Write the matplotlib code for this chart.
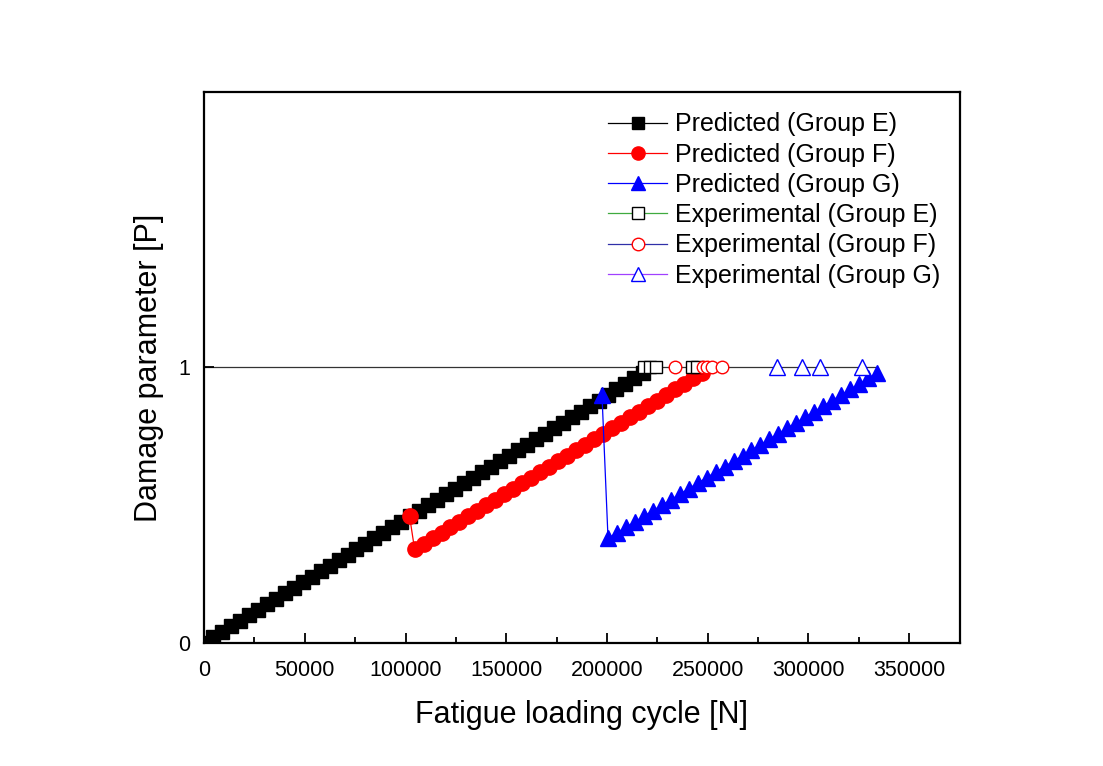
import matplotlib
matplotlib.use("Agg")
import matplotlib.pyplot as plt
from matplotlib.lines import Line2D
from matplotlib.ticker import MultipleLocator, FixedLocator

plt.rcParams['font.family'] = ['Liberation Sans', 'DejaVu Sans']

# Predicted damage parameter, Group E
pred_e_n = [0, 4450, 8900, 13350, 17800, 22250, 26700, 31150, 35600, 40050,
            44500, 48950, 53400, 57850, 62300, 66750, 71200, 75650, 80100, 84550,
            89000, 93450, 97900, 102350, 106800, 111250, 115700, 120150, 124600, 129050,
            133500, 137950, 142400, 146850, 151300, 155750, 160200, 164650, 169100, 173550,
            178000, 182450, 186900, 191350, 195800, 200250, 204700, 209150, 213600, 218050]
pred_e_p = [0.00, 0.02, 0.04, 0.06, 0.08, 0.10, 0.12, 0.14, 0.16, 0.18,
            0.20, 0.22, 0.24, 0.26, 0.28, 0.30, 0.32, 0.34, 0.36, 0.38,
            0.40, 0.42, 0.44, 0.46, 0.48, 0.50, 0.52, 0.54, 0.56, 0.58,
            0.60, 0.62, 0.64, 0.66, 0.68, 0.70, 0.72, 0.74, 0.76, 0.78,
            0.80, 0.82, 0.84, 0.86, 0.88, 0.90, 0.92, 0.94, 0.96, 0.98]

# Predicted damage parameter, Group F (load change at ~1.0e5 cycles)
pred_f_n = [102000, 104500, 108950, 113400, 117850, 122300, 126750, 131200, 135650, 140100,
            144550, 149000, 153450, 157900, 162350, 166800, 171250, 175700, 180150, 184600,
            189050, 193500, 197950, 202400, 206850, 211300, 215750, 220200, 224650, 229100,
            233550, 238000, 242450, 246900]
pred_f_p = [0.46, 0.34, 0.36, 0.38, 0.40, 0.42, 0.44, 0.46, 0.48, 0.50,
            0.52, 0.54, 0.56, 0.58, 0.60, 0.62, 0.64, 0.66, 0.68, 0.70,
            0.72, 0.74, 0.76, 0.78, 0.80, 0.82, 0.84, 0.86, 0.88, 0.90,
            0.92, 0.94, 0.96, 0.98]

# Predicted damage parameter, Group G (load change at ~2.0e5 cycles)
pred_g_n = [197500, 200500, 204950, 209400, 213850, 218300, 222750, 227200, 231650, 236100,
            240550, 245000, 249450, 253900, 258350, 262800, 267250, 271700, 276150, 280600,
            285050, 289500, 293950, 298400, 302850, 307300, 311750, 316200, 320650, 325100,
            329550, 334000]
pred_g_p = [0.90, 0.38, 0.40, 0.42, 0.44, 0.46, 0.48, 0.50, 0.52, 0.54,
            0.56, 0.58, 0.60, 0.62, 0.64, 0.66, 0.68, 0.70, 0.72, 0.74,
            0.76, 0.78, 0.80, 0.82, 0.84, 0.86, 0.88, 0.90, 0.92, 0.94,
            0.96, 0.98]

# Experimental fatigue lives (failure at P = 1)
exp_e_n = [218500, 221500, 224500, 242000, 244500]
exp_f_n = [233500, 247500, 249500, 252000, 257300]
exp_g_n = [284600, 297000, 305900, 326700]
failure_p = 1.0
failure_span = [0, 333000]

fig = plt.figure(figsize=(11.03, 7.66), dpi=100)
ax = fig.add_axes([0.185, 0.1606, 0.685, 0.7194])

lw = 0.9
ax.plot(failure_span, [failure_p, failure_p], color='#333333', lw=lw, zorder=1)

ax.plot(pred_e_n, pred_e_p, color='black', lw=lw, marker='s', ms=10,
        mfc='black', mec='black', zorder=3)
ax.plot(pred_f_n, pred_f_p, color='red', lw=lw, marker='o', ms=11,
        mfc='red', mec='red', zorder=3)
ax.plot(pred_g_n, pred_g_p, color='blue', lw=lw, marker='^', ms=11.5,
        mfc='blue', mec='blue', zorder=3)

ax.plot(exp_e_n, [failure_p] * len(exp_e_n), ls='none', marker='s', ms=8,
        mfc='white', mec='black', mew=1.0, zorder=4)
ax.plot(exp_f_n, [failure_p] * len(exp_f_n), ls='none', marker='o', ms=9,
        mfc='white', mec='red', mew=1.0, zorder=4)
ax.plot(exp_g_n, [failure_p] * len(exp_g_n), ls='none', marker='^', ms=11.5,
        mfc='white', mec='blue', mew=1.0, zorder=4)

handles = [
    Line2D([], [], color='black', lw=lw, marker='s', ms=8, mfc='black', mec='black'),
    Line2D([], [], color='red', lw=lw, marker='o', ms=9.5, mfc='red', mec='red'),
    Line2D([], [], color='blue', lw=lw, marker='^', ms=10, mfc='blue', mec='blue'),
    Line2D([], [], color='#3faa3f', lw=lw, marker='s', ms=8, mfc='white', mec='black'),
    Line2D([], [], color='#3030a8', lw=lw, marker='o', ms=9, mfc='white', mec='red'),
    Line2D([], [], color='#a040ff', lw=lw, marker='^', ms=10.5, mfc='white', mec='blue'),
]
labels = ['Predicted (Group E)', 'Predicted (Group F)', 'Predicted (Group G)',
          'Experimental (Group E)', 'Experimental (Group F)', 'Experimental (Group G)']
ax.legend(handles, labels, loc='upper left', bbox_to_anchor=(0.535, 0.963),
          frameon=False, fontsize=18, handlelength=2.35, handletextpad=0.3,
          labelspacing=0.25, borderpad=0, borderaxespad=0)

ax.set_xlim(0, 375000)
ax.set_ylim(0, 2)
ax.xaxis.set_major_locator(MultipleLocator(50000))
ax.xaxis.set_minor_locator(MultipleLocator(25000))
ax.yaxis.set_major_locator(FixedLocator([0, 1]))
ax.tick_params(axis='both', which='major', direction='in', length=7, width=1.3,
               labelsize=15.5)
ax.tick_params(axis='x', which='major', pad=12)
ax.tick_params(axis='y', which='major', pad=10)
ax.tick_params(axis='x', which='minor', direction='in', length=4, width=1.3)
for s in ax.spines.values():
    s.set_linewidth(1.6)

ax.set_xlabel('Fatigue loading cycle [N]', fontsize=22, labelpad=14)
ax.set_ylabel('Damage parameter [P]', fontsize=22, labelpad=10)

fig.savefig('out.png', dpi=100)
